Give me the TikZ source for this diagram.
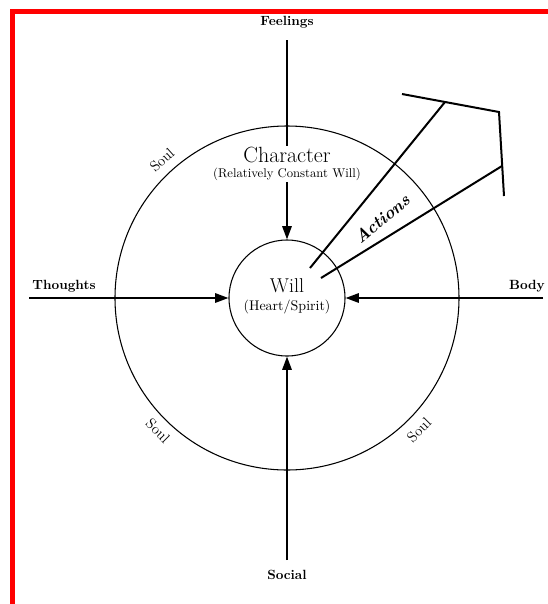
\documentclass[tikz,border=0pt]{standalone}
\usetikzlibrary{arrows.meta}
\begin{document}
\begin{tikzpicture}[x=0.75pt,y=-0.75pt,
  axis/.style={line width=1.5pt,-{Triangle[length=10pt,width=7pt]}},
  lbl/.style={font=\fontsize{10}{12}\selectfont\bfseries, inner sep=1pt},
  ring/.style={draw, circle, line width=0.8pt, inner sep=0pt},
  soul/.style={font=\fontsize{11}{13}\selectfont, inner sep=1pt},
  act/.style={line width=1.5pt}]
\useasboundingbox (0,0) rectangle (548,604);
\fill[white] (0,0) rectangle (548,604);
\draw[red, line width=3.75pt] (12.5,604) -- (12.5,11.5) -- (548,11.5);

% circles
\node[ring, minimum size=258pt] (soulc) at (287,298) {};
\node[ring, minimum size=87pt] (will) at (287,298) {};

% free ends
\coordinate (ftop) at (287,40);
\coordinate (sbot) at (287,560);
\coordinate (tl) at (29,298);
\coordinate (br) at (543,298);

% axes
\draw[axis] (ftop) -- (will.north);
\draw[axis] (sbot) -- (will.south);
\draw[axis] (tl) -- (will.west);
\draw[axis] (br) -- (will.east);

% labels
\node[lbl] (feel) at (287,22) {Feelings};
\node[lbl] (thou) at (64,286) {Thoughts};
\node[lbl] (body) at (527,286) {Body};
\node[lbl] (soc) at (287,575) {Social};

% character
\node[fill=white, inner sep=1pt, align=center] (char) at (287,164)
  {\fontsize{16.5}{17}\selectfont Character\\[-1pt]\fontsize{9.5}{12}\selectfont (Relatively Constant Will)};

% will text
\node[inner sep=0pt] (willt) at (287,286) {\fontsize{15}{18}\selectfont Will};
\node[inner sep=0pt] (heart) at (287,307) {\fontsize{10.5}{13}\selectfont (Heart/Spirit)};

% soul labels
\node[soul, rotate=42] (s1) at (162,160) {Soul};
\node[soul, rotate=-45] (s2) at (158,431) {Soul};
\node[soul, rotate=45] (s3) at (419,430) {Soul};

% actions
\coordinate (a1s) at (310,268);
\coordinate (a1e) at (445,102);
\coordinate (a2s) at (321,278);
\coordinate (a2e) at (502,166);
\coordinate (bar1) at (402,94);
\coordinate (corner) at (499,112);
\coordinate (bar2) at (504,196);
\draw[act] (a1s) -- (a1e);
\draw[act] (a2s) -- (a2e);
\draw[act, line join=miter] (bar1) -- (corner) -- (bar2);
\node[rotate=40, inner sep=1pt, font=\fontsize{13}{15}\selectfont\bfseries\itshape] (actl) at (382,219) {Actions};
\end{tikzpicture}
\end{document}
